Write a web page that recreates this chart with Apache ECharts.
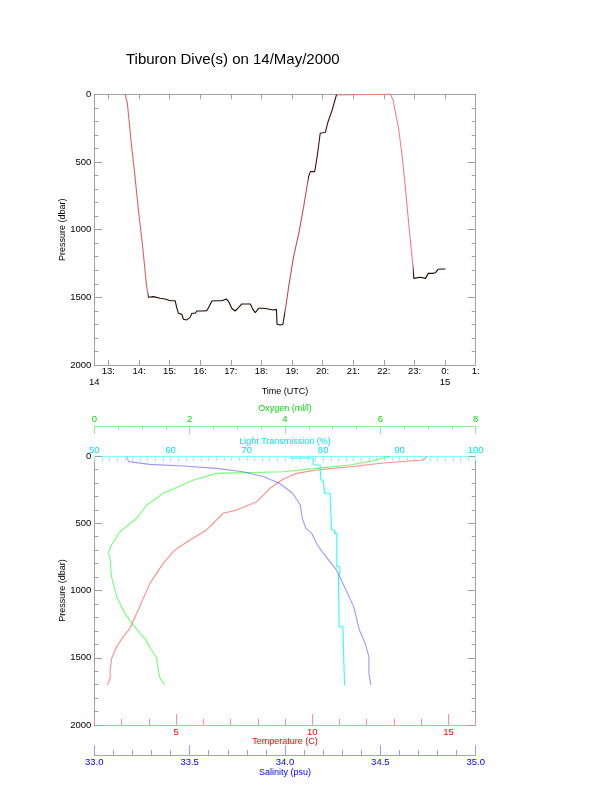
<!DOCTYPE html>
<html><head><meta charset="utf-8">
<script src="https://cdn.jsdelivr.net/npm/echarts@6/dist/echarts.min.js"></script>
<style>html,body{margin:0;padding:0;background:#fff}#c{width:612px;height:785px}</style>
</head><body><div id="c"></div>
<script>
// ---------- Top panel: dive track ----------
const timeHours = [13.545,13.62,13.76,13.87,13.98,14.12,14.25,14.31,14.47,14.69,14.85,15.02,15.18,15.24,15.29,15.40,15.45,15.56,15.67,15.73,15.84,15.89,16.05,16.22,16.30,16.38,16.54,16.71,16.85,16.93,17.03,17.14,17.25,17.36,17.53,17.64,17.72,17.80,17.91,18.07,18.23,18.38,18.42,18.49,18.51,18.62,18.70,18.78,18.89,19.05,19.22,19.38,19.54,19.60,19.74,19.82,19.92,20.09,20.16,20.31,20.45,20.49,22.21,22.30,22.48,22.60,22.71,22.81,22.92,22.98,23.03,23.20,23.36,23.45,23.58,23.69,23.77,23.90,24.01];
const pressureTrack = [0,66,387,608,855,1126,1421,1500,1495,1507,1512,1525,1525,1581,1618,1626,1662,1667,1648,1618,1618,1601,1601,1598,1564,1527,1525,1525,1512,1532,1581,1601,1576,1549,1549,1549,1589,1613,1581,1581,1586,1594,1581,1589,1699,1704,1699,1594,1421,1200,1027,830,608,571,571,461,288,281,214,116,5,0,0,42,251,461,707,953,1200,1360,1352,1352,1360,1323,1323,1318,1293,1291,1291];
const hourTicks = [13,14,15,16,17,18,19,20,21,22,23,24,25];
const dayTicks = [12.54,24];
const dayLabels = ['14','15'];

// ---------- Bottom panel: profiles ----------
const tempValues   = [14.2,14.07,12.6,11.4,10.16,9.43,8.94,8.45,7.96,7.23,6.73,6.12,5.51,5.02,4.9,4.53,4.04,3.61,3.31,3.06,2.82,2.64,2.58,2.58,2.48];
const tempPressure = [5,30,52,80,104,129,171,240,340,401,426,550,625,690,711,798,947,1145,1281,1343,1418,1504,1591,1653,1703];
const oxyValues    = [6.2,5.92,5.36,4.66,3.96,2.57,2.08,1.45,1.10,0.89,0.54,0.36,0.29,0.33,0.36,0.47,0.64,0.82,0.96,1.06,1.20,1.31,1.34,1.38,1.48];
const oxyPressure  = [0,30,67,92,117,129,178,277,364,463,563,662,724,760,897,1046,1170,1257,1318,1356,1442,1504,1591,1653,1703];
const lightValues  = [75.6,78.7,79.6,79.7,80.0,80.2,80.9,81.1,81.5,81.8,82.2,82.0,82.1,82.6,82.8];
const lightPressure= [15,67,92,178,191,277,290,550,575,823,860,897,1269,1294,1703];
const salValues    = [33.17,33.18,33.29,33.47,33.64,33.78,33.89,33.97,34.04,34.08,34.09,34.11,34.14,34.17,34.20,34.27,34.32,34.36,34.39,34.42,34.44,34.44,34.45];
const salPressure  = [5,42,62,74,92,117,154,203,277,364,463,538,575,662,720,848,996,1120,1294,1393,1492,1616,1703];
const tempMajorTicks = [5,10,15];

const pair = (xs, ys) => xs.map((x, i) => [x, ys[i]]);
const gray = '#a0a0a0';
const FONT = 'Liberation Sans, Arial, sans-serif';
const lbl = (c) => ({color: c, fontSize: 9.5, fontFamily: FONT});
const nm = (c) => ({color: c, fontSize: 9, fontFamily: FONT});
const plain = v => String(v);

const chart = echarts.init(document.getElementById('c'), null, {renderer: 'canvas'});
chart.setOption({
  animation: false,
  backgroundColor: '#fff',
  title: {text: 'Tiburon Dive(s) on 14/May/2000', left: 126, top: 52, padding: 0,
    textStyle: {fontSize: 15, fontWeight: 'normal', color: '#000', fontFamily: FONT}},
  visualMap: {type: 'piecewise', show: false, seriesIndex: 0, dimension: 0,
    pieces: [
      {lt: 14.3, color: '#e06060'},
      {gte: 14.3, lt: 18.76, color: '#200808'},
      {gte: 18.76, lt: 19.52, color: '#c05050'},
      {gte: 19.52, lt: 20.46, color: '#401010'},
      {gte: 20.46, lt: 22.96, color: '#f08080'},
      {gte: 22.96, color: '#200808'}
    ]},
  grid: [
    {left: 94.3, top: 94.3, width: 381.4, height: 270.7},
    {left: 94.3, top: 456, width: 381.4, height: 269}
  ],
  xAxis: [
    {gridIndex: 0, type: 'value', position: 'bottom', min: 12.54, max: 25,
      name: 'Time (UTC)', nameLocation: 'middle', nameGap: 22, nameTextStyle: nm('#000'), nameMoveOverlap: false,
      axisLine: {onZero: false, lineStyle: {color: gray}},
      axisTick: {inside: true, length: 5, customValues: hourTicks, lineStyle: {color: gray}},
      axisLabel: {customValues: hourTicks, margin: 1, formatter: v => (Math.round(v) % 24) + ':', ...lbl('#000')},
      splitLine: {show: false}},
    {gridIndex: 0, type: 'value', position: 'bottom', min: 12.54, max: 25,
      axisLine: {show: false, onZero: false}, axisTick: {show: false},
      axisLabel: {customValues: dayTicks, margin: 12, formatter: v => dayLabels[dayTicks.indexOf(v)] || '', showMinLabel: true, ...lbl('#000')},
      splitLine: {show: false}},
    {gridIndex: 0, type: 'value', position: 'top', min: 12.54, max: 25,
      axisLine: {onZero: false, lineStyle: {color: gray}},
      axisTick: {inside: true, length: 5, customValues: hourTicks, lineStyle: {color: gray}},
      axisLabel: {show: false}, splitLine: {show: false}},
    // temperature (labels + major ticks)
    {gridIndex: 1, type: 'value', position: 'bottom', min: 2, max: 16,
      name: 'Temperature (C)', nameLocation: 'middle', nameGap: 12, nameTextStyle: nm('#ff0000'), nameMoveOverlap: false,
      axisLine: {onZero: false, lineStyle: {color: '#f0a0a0'}},
      axisTick: {inside: true, length: 11, customValues: tempMajorTicks, lineStyle: {color: '#ff9090'}},
      axisLabel: {customValues: tempMajorTicks, margin: 2, ...lbl('#ff0000')},
      splitLine: {show: false}},
    // temperature minor ticks
    {gridIndex: 1, type: 'value', position: 'bottom', min: 2, max: 16, interval: 1,
      axisLine: {show: false, onZero: false},
      axisTick: {inside: true, length: 6, lineStyle: {color: '#ff9090'}},
      axisLabel: {show: false}, splitLine: {show: false}},
    // salinity
    {gridIndex: 1, type: 'value', position: 'bottom', offset: 30, min: 33, max: 35, interval: 0.5,
      name: 'Salinity (psu)', nameLocation: 'middle', nameGap: 13, nameTextStyle: nm('#0000ff'), nameMoveOverlap: false,
      axisLine: {onZero: false, lineStyle: {color: '#9a9aff'}},
      axisTick: {inside: true, length: 10, lineStyle: {color: '#9a9aff'}},
      minorTick: {show: true, splitNumber: 5, length: 5, lineStyle: {color: '#9a9aff'}},
      axisLabel: {margin: 2, formatter: v => v.toFixed(1), showMaxLabel: true, ...lbl('#0000ff')},
      splitLine: {show: false}, minorSplitLine: {show: false}},
    // oxygen
    {gridIndex: 1, type: 'value', position: 'top', offset: 30, min: 0, max: 8, interval: 2,
      name: 'Oxygen (ml/l)', nameLocation: 'middle', nameGap: 13, nameTextStyle: nm('#00dd00'), nameMoveOverlap: false,
      axisLine: {onZero: false, lineStyle: {color: '#90ee90'}},
      axisTick: {inside: true, length: 8, lineStyle: {color: '#90ee90'}},
      minorTick: {show: true, splitNumber: 4, length: 4, lineStyle: {color: '#90ee90'}},
      axisLabel: {margin: 2, formatter: plain, ...lbl('#00dd00')},
      splitLine: {show: false}, minorSplitLine: {show: false}},
    // light transmission
    {gridIndex: 1, type: 'value', position: 'top', min: 50, max: 100, interval: 10,
      name: 'Light Transmission (%)', nameLocation: 'middle', nameGap: 10, nameTextStyle: nm('#00e5e5'), nameMoveOverlap: false,
      axisLine: {onZero: false, lineStyle: {color: '#80ffff'}},
      axisTick: {inside: true, length: 5, lineStyle: {color: '#80ffff'}},
      minorTick: {show: true, splitNumber: 10, length: 5, lineStyle: {color: '#80ffff'}},
      axisLabel: {margin: 1, formatter: plain, ...lbl('#00e5e5')},
      splitLine: {show: false}, minorSplitLine: {show: false}}
  ],
  yAxis: [
    {gridIndex: 0, type: 'value', inverse: true, min: 0, max: 2000, interval: 500, position: 'left',
      name: 'Pressure (dbar)', nameLocation: 'middle', nameGap: 27, nameTextStyle: nm('#000'), nameMoveOverlap: false,
      axisLine: {show: true, onZero: false, lineStyle: {color: gray}},
      axisTick: {show: true, inside: true, length: 8, lineStyle: {color: gray}},
      minorTick: {show: true, splitNumber: 5, length: 4, lineStyle: {color: gray}},
      axisLabel: {margin: 3, formatter: plain, ...lbl('#000')},
      splitLine: {show: false}, minorSplitLine: {show: false}},
    {gridIndex: 0, type: 'value', inverse: true, min: 0, max: 2000, interval: 500, position: 'right',
      axisLine: {show: true, onZero: false, lineStyle: {color: gray}},
      axisTick: {show: true, inside: true, length: 8, lineStyle: {color: gray}},
      minorTick: {show: true, splitNumber: 5, length: 4, lineStyle: {color: gray}},
      axisLabel: {show: false}, splitLine: {show: false}, minorSplitLine: {show: false}},
    {gridIndex: 1, type: 'value', inverse: true, min: 0, max: 2000, interval: 500, position: 'left',
      name: 'Pressure (dbar)', nameLocation: 'middle', nameGap: 27, nameTextStyle: nm('#000'), nameMoveOverlap: false,
      axisLine: {show: true, onZero: false, lineStyle: {color: gray}},
      axisTick: {show: true, inside: true, length: 8, lineStyle: {color: gray}},
      minorTick: {show: true, splitNumber: 5, length: 4, lineStyle: {color: gray}},
      axisLabel: {margin: 3, formatter: plain, ...lbl('#000')},
      splitLine: {show: false}, minorSplitLine: {show: false}},
    {gridIndex: 1, type: 'value', inverse: true, min: 0, max: 2000, interval: 500, position: 'right',
      axisLine: {show: true, onZero: false, lineStyle: {color: gray}},
      axisTick: {show: true, inside: true, length: 8, lineStyle: {color: gray}},
      minorTick: {show: true, splitNumber: 5, length: 4, lineStyle: {color: gray}},
      axisLabel: {show: false}, splitLine: {show: false}, minorSplitLine: {show: false}}
  ],
  series: [
    {type: 'line', xAxisIndex: 0, yAxisIndex: 0, data: pair(timeHours, pressureTrack),
      lineStyle: {width: 1.1}, showSymbol: false, clip: false, z: 3},
    {type: 'line', xAxisIndex: 3, yAxisIndex: 2, data: pair(tempValues, tempPressure),
      lineStyle: {color: '#ff0000', width: 1.1, opacity: 0.45}, showSymbol: false},
    {type: 'line', xAxisIndex: 6, yAxisIndex: 2, data: pair(oxyValues, oxyPressure),
      lineStyle: {color: '#00ff00', width: 1.1, opacity: 0.55}, showSymbol: false},
    {type: 'line', xAxisIndex: 7, yAxisIndex: 2, data: pair(lightValues, lightPressure),
      lineStyle: {color: '#00ffff', width: 1.1, opacity: 0.85}, showSymbol: false, step: 'end'},
    {type: 'line', xAxisIndex: 5, yAxisIndex: 2, data: pair(salValues, salPressure),
      lineStyle: {color: '#0000ff', width: 1.1, opacity: 0.4}, showSymbol: false}
  ]
});
</script></body></html>
